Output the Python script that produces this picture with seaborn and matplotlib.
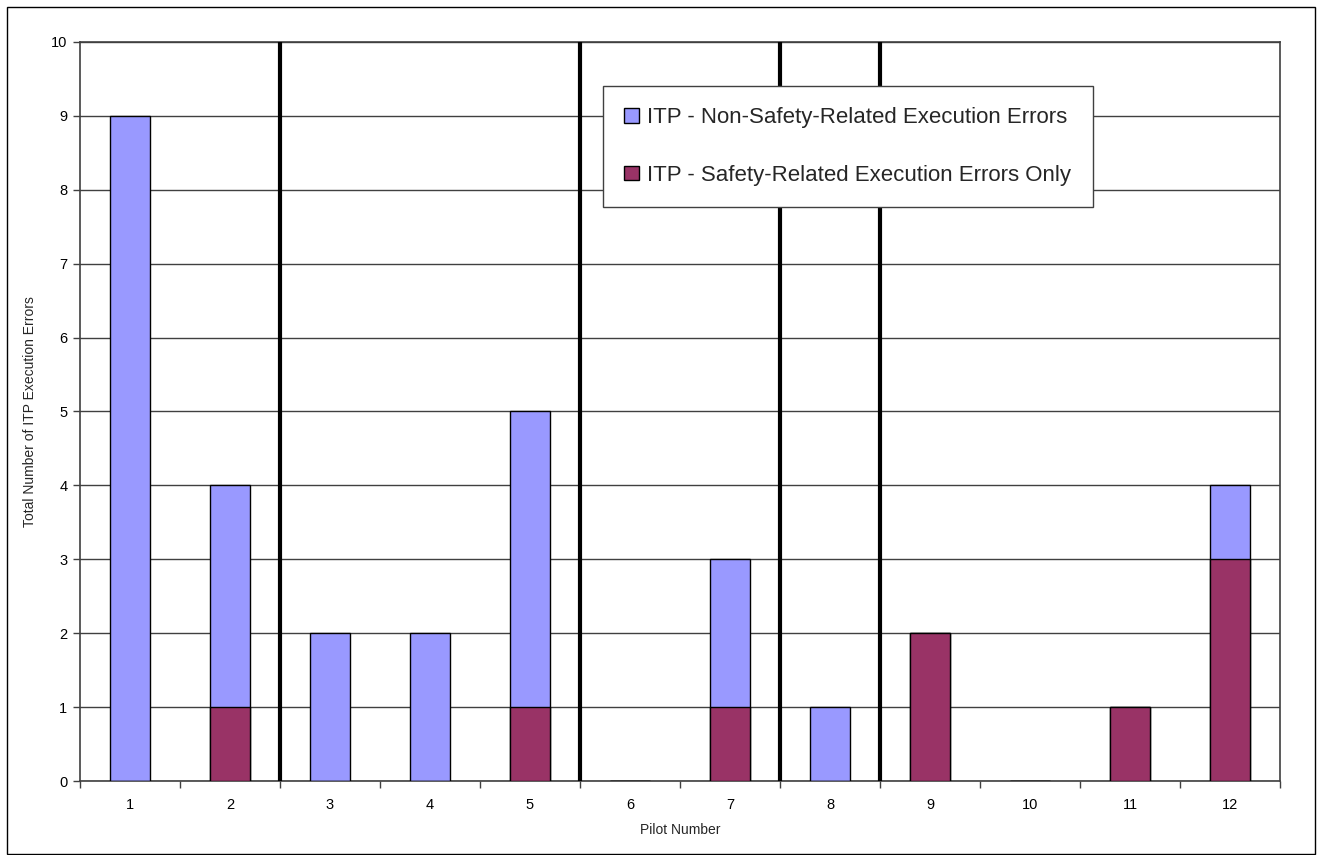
import matplotlib
matplotlib.use("Agg")
import matplotlib.pyplot as plt
import seaborn as sns
import pandas as pd
from matplotlib.patches import Rectangle, Patch
from matplotlib.ticker import FixedLocator

pilots = ["1", "2", "3", "4", "5", "6", "7", "8", "9", "10", "11", "12"]
non_safety = [9, 3, 2, 2, 4, 0, 2, 1, 0, 0, 0, 1]
safety = [0, 1, 0, 0, 1, 0, 1, 0, 2, 0, 1, 3]
separators_after = [2, 5, 7, 8]  # thick lines after these pilots

label_non = "ITP - Non-Safety-Related Execution Errors"
label_safe = "ITP - Safety-Related Execution Errors Only"
c_non = "#9999FF"
c_safe = "#993366"

sns.set_theme(style="white")
plt.rcParams["font.family"] = ["Liberation Sans", "DejaVu Sans"]

df = pd.DataFrame({
    "pilot": pilots,
    "total": [a + b for a, b in zip(non_safety, safety)],
    "safety": safety,
})

fig = plt.figure(figsize=(13.17, 8.55), dpi=100)
ax = fig.add_axes([80 / 1317, 1 - 781 / 855, 1200 / 1317, (781 - 42) / 855])

sns.barplot(data=df, x="pilot", y="total", order=pilots, color=c_non,
            saturation=1, width=0.4, edgecolor="black", linewidth=1, ax=ax, zorder=3)
sns.barplot(data=df, x="pilot", y="safety", order=pilots, color=c_safe,
            saturation=1, width=0.4, edgecolor="black", linewidth=1, ax=ax, zorder=4)

ax.set_xlim(-0.5, len(pilots) - 0.5)
ax.set_ylim(0, 10)
ax.set_yticks(range(0, 11))
ax.yaxis.grid(True, color="#404040", linewidth=1, zorder=0)
ax.set_axisbelow(True)

for p in separators_after:
    ax.axvline(p - 0.5, color="black", linewidth=3, zorder=5)

ax.xaxis.set_minor_locator(FixedLocator([i - 0.5 for i in range(len(pilots) + 1)]))
ax.tick_params(axis="x", which="major", length=0, pad=12, labelsize=10.5, colors="black")
ax.tick_params(axis="x", which="minor", bottom=True, length=5, width=1, color="#404040", direction="out")
ax.tick_params(axis="y", left=True, length=5, width=1, color="#404040", labelsize=10.5, pad=4)
for t in ax.get_yticklabels():
    t.set_color("black")

for s in ax.spines.values():
    s.set_visible(True)
    s.set_color("#404040")
    s.set_linewidth(1.2)

ax.set_xlabel("Pilot Number", fontsize=10, labelpad=8)
ax.set_ylabel("Total Number of ITP Execution Errors", fontsize=10, labelpad=10)

handles = [Patch(facecolor=c_non, edgecolor="black", linewidth=1),
           Patch(facecolor=c_safe, edgecolor="black", linewidth=1)]
leg = fig.legend(handles, [label_non, label_safe], loc="upper left",
                 bbox_to_anchor=(603 / 1317, 1 - 86 / 855), fontsize=16,
                 frameon=True, fancybox=False, framealpha=1, edgecolor="#404040",
                 handlelength=0.65, handleheight=0.65, handletextpad=0.4,
                 labelspacing=1.65, borderpad=0.95, borderaxespad=0)
leg.get_frame().set_linewidth(1)
leg.set_zorder(10)

fig.patches.append(Rectangle((7 / 1317, 1 / 855), (1315 - 7) / 1317, (848 - 1) / 855,
                             transform=fig.transFigure, fill=False,
                             edgecolor="black", linewidth=1))

fig.savefig("out.png", dpi=100, facecolor="white")
